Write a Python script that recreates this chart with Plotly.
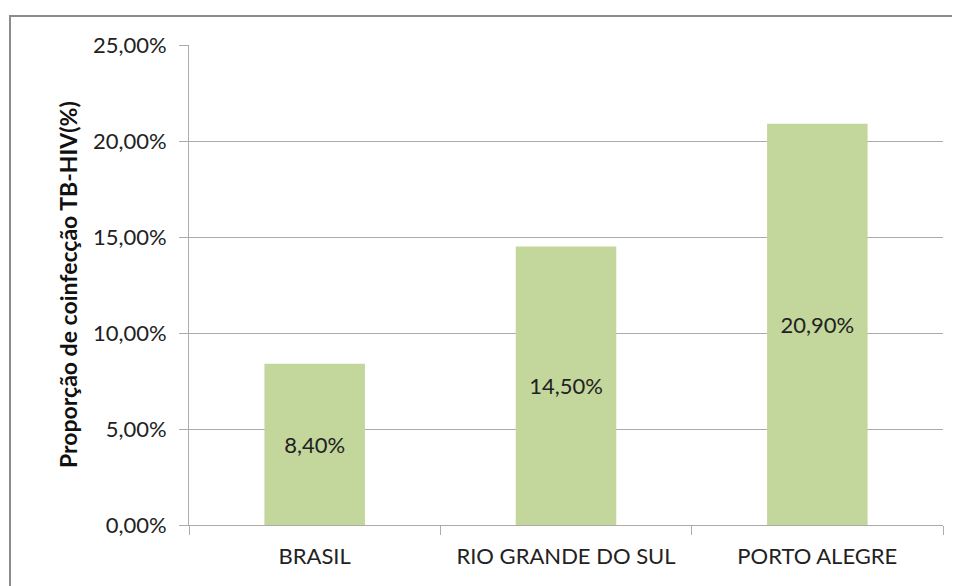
import plotly.graph_objects as go

regioes = ["BRASIL", "RIO GRANDE DO SUL", "PORTO ALEGRE"]
coinfeccao = [0.084, 0.145, 0.209]
y_ticks = [0, 0.05, 0.10, 0.15, 0.20, 0.25]
titulo_y = "Proporção de coinfecção TB-HIV(%)"

fonte = "Lato, Open Sans, sans-serif"
cinza = "#ABABAB"

# a página tem 8px de margem no body: a figura é reduzida para caber
W, H = 952, 578
ML, MR, MT, MB = 181, 17, 37, 61
PW, PH = W - ML - MR, H - MT - MB

fig = go.Figure(go.Bar(
    x=regioes,
    y=coinfeccao,
    width=0.4,
    marker=dict(color="#C3D69B", line=dict(width=0)),
    texttemplate="%{y:.2%}",
    textposition="inside",
    insidetextanchor="middle",
    textangle=0,
    textfont=dict(family=fonte, size=22, color="#222222"),
))

fig.update_layout(
    width=W, height=H,
    margin=dict(l=ML, r=MR, t=MT, b=MB, autoexpand=False),
    paper_bgcolor="white",
    plot_bgcolor="white",
    separators=",.",
    showlegend=False,
    font=dict(family=fonte, color="#222222"),
)

fig.update_yaxes(
    range=[0, 0.25],
    tickvals=y_ticks,
    tickformat=".2%",
    tickfont=dict(size=22),
    ticklabelstandoff=8,
    showgrid=True, gridcolor=cinza, gridwidth=1,
    showline=True, linecolor=cinza, linewidth=1,
    ticks="outside", ticklen=9, tickcolor=cinza,
    zeroline=False,
)
fig.update_xaxes(
    tickfont=dict(size=22),
    ticklabelstandoff=12,
    showline=True, linecolor=cinza, linewidth=1,
    ticks="outside", ticklen=9, tickcolor=cinza,
    tickson="boundaries",
    showgrid=False,
)

fig.add_annotation(
    text="<b>" + titulo_y + "</b>",
    xref="paper", yref="paper",
    x=(60 - ML) / PW, y=0.5,
    xanchor="center", yanchor="middle",
    textangle=-90, showarrow=False,
    font=dict(family=fonte, size=23, color="#111111"),
)

# moldura do gráfico
fig.add_shape(type="rect", xref="paper", yref="paper",
              x0=(2 - ML) / PW, x1=1.05, y0=-0.2, y1=1 + 29 / PH,
              line=dict(color="#8C8C8C", width=2), layer="below")

fig.write_html("out.html")
